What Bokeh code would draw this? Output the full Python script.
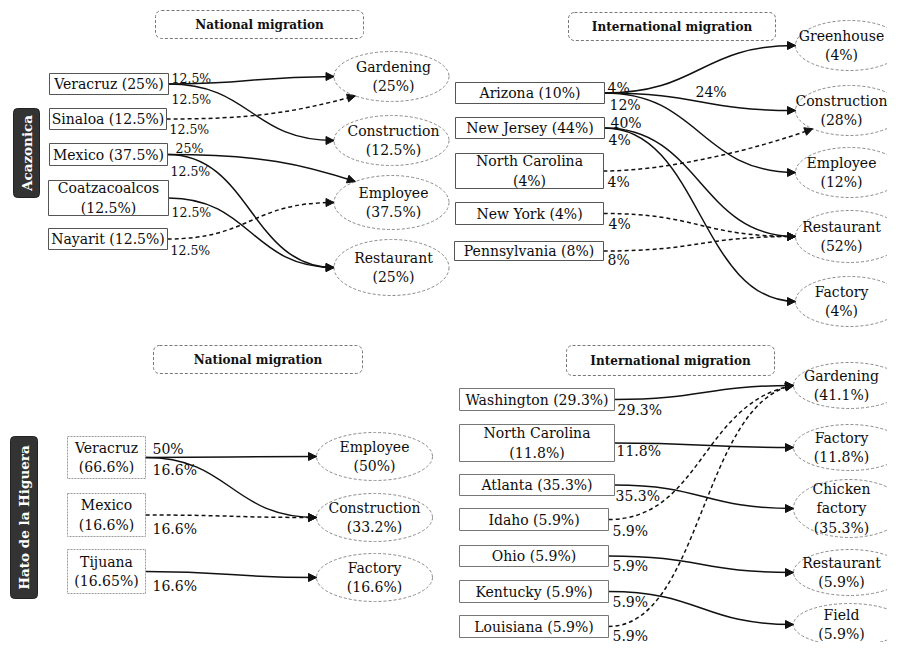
import math
from bokeh.plotting import figure
from bokeh.models import Range1d, ColumnDataSource, Arrow, NormalHead
from bokeh.core.properties import value
from bokeh.embed import file_html
from bokeh.resources import INLINE

# ---------------- data ----------------
communities = ["Acazonica", "Hato de la Higuera"]
panel_titles = ["National migration", "International migration",
                "National migration", "International migration"]

# Acazonica - national migration
aca_nat_origin = ["Veracruz", "Sinaloa", "Mexico", "Coatzacoalcos", "Nayarit"]
aca_nat_origin_pct = [25, 12.5, 37.5, 12.5, 12.5]
aca_nat_dest = ["Gardening", "Construction", "Employee", "Restaurant"]
aca_nat_dest_pct = [25, 12.5, 37.5, 25]
aca_nat_from = [0, 0, 1, 2, 2, 3, 4]
aca_nat_to = [0, 1, 0, 2, 3, 3, 2]
aca_nat_flow_pct = [12.5, 12.5, 12.5, 25, 12.5, 12.5, 12.5]
aca_nat_dashed = [False, False, True, False, False, False, True]

# Acazonica - international migration
aca_int_origin = ["Arizona", "New Jersey", "North Carolina", "New York", "Pennsylvania"]
aca_int_origin_pct = [10, 44, 4, 4, 8]
aca_int_dest = ["Greenhouse", "Construction", "Employee", "Restaurant", "Factory"]
aca_int_dest_pct = [4, 28, 12, 52, 4]
aca_int_from = [0, 0, 0, 1, 1, 2, 3, 4]
aca_int_to = [0, 1, 2, 3, 4, 1, 3, 3]
aca_int_flow_pct = [4, 24, 12, 40, 4, 4, 4, 8]
aca_int_dashed = [False, False, False, False, False, True, True, True]

# Hato de la Higuera - national migration
hato_nat_origin = ["Veracruz", "Mexico", "Tijuana"]
hato_nat_origin_pct = [66.6, 16.6, 16.65]
hato_nat_dest = ["Employee", "Construction", "Factory"]
hato_nat_dest_pct = [50, 33.2, 16.6]
hato_nat_from = [0, 0, 1, 2]
hato_nat_to = [0, 1, 1, 2]
hato_nat_flow_pct = [50, 16.6, 16.6, 16.6]
hato_nat_dashed = [False, False, True, False]

# Hato de la Higuera - international migration
hato_int_origin = ["Washington", "North Carolina", "Atlanta", "Idaho", "Ohio",
                   "Kentucky", "Louisiana"]
hato_int_origin_pct = [29.3, 11.8, 35.3, 5.9, 5.9, 5.9, 5.9]
hato_int_dest = ["Gardening", "Factory", "Chicken factory", "Restaurant", "Field"]
hato_int_dest_pct = [41.1, 11.8, 35.3, 5.9, 5.9]
hato_int_from = [0, 1, 2, 3, 4, 5, 6]
hato_int_to = [0, 1, 2, 0, 3, 4, 0]
hato_int_flow_pct = [29.3, 11.8, 35.3, 5.9, 5.9, 5.9, 5.9]
hato_int_dashed = [False, False, False, True, False, False, True]

# ---------------- layout (positions / styles) ----------------
layout = [
    dict(title_box=(155, 363, 10, 38), side=(13, 39, 108, 197),
         boxes=[(49, 168, 73, 94), (49, 166, 108, 129), (49, 167, 143, 165),
                (48, 168, 180, 215), (48, 167, 228, 249)],
         wrap=[False, False, False, True, False],
         box_color="#555555", box_dash="solid",
         ell_cx=391, ell_w=115, ell_tx=2, ell_cy=[76, 140, 202, 267], ell_h=[50, 50, 54, 56],
         lab=[(3, -6), (3, 15.5), (3, 10.5), (8, -6), (3, 17), (3, 14.5), (3, 11.5)],
         lab_size="12.5px",
         ends={2: (129, 15, 0.45, 0.35), 3: (231, -18, 0.5, 0.3)}),
    dict(title_box=(568, 775, 12, 40), side=None,
         boxes=[(455, 604, 82, 103), (455, 604, 117, 138), (455, 603, 153, 188),
                (455, 603, 202, 224), (454, 603, 241, 260)],
         wrap=[False, False, True, False, False],
         box_color="#555555", box_dash="solid",
         ell_cx=849, ell_w=108, ell_tx=-8, ell_cy=[45, 110, 172, 236, 301], ell_h=[50, 50, 50, 52, 50],
         lab=[(3, -5.5), (91, -1), (5, 11.5), (6, -5.5), (4, 11.5), (4, 10.5), (5, 10), (4, 8.5)],
         lab_size="14px",
         ends={5: (133, 20, 0.3, 0.3)}),
    dict(title_box=(153, 362, 345, 373), side=(10, 37, 436, 598),
         boxes=[(67, 145, 436, 478), (67, 145, 493, 536), (67, 145, 549, 593)],
         wrap=[True, True, True],
         box_color="#9a9a9a", box_dash="2 1",
         ell_cx=374, ell_w=116, ell_tx=0, ell_cy=[456, 517, 577], ell_h=[48, 48, 48],
         lab=[(7, -9), (7, 12), (7, 13.5), (7, 14)],
         lab_size="14px",
         ends={}),
    dict(title_box=(566, 774, 345, 375), side=None,
         boxes=[(459, 614, 388, 410), (459, 614, 424, 461), (459, 614, 474, 495),
                (459, 608, 508, 530), (459, 608, 545, 566), (459, 608, 580, 602),
                (459, 608, 615, 637)],
         wrap=[False, True, False, False, False, False, False],
         box_color="#777777", box_dash="solid",
         ell_cx=849, ell_w=112, ell_tx=-8, ell_cy=[385, 447, 508, 572, 624], ell_h=[46, 46, 58, 46, 42],
         lab=[(3, 10), (2, 8), (1, 10.5), (4, 11), (4, 9.5), (4, 10), (4, 9)],
         lab_size="14px",
         ends={3: (180, 10, 0.5, 0.5), 6: (180, 10, 0.5, 0.5)}),
]

panels = [
    dict(origin=aca_nat_origin, opct=aca_nat_origin_pct, dest=aca_nat_dest, dpct=aca_nat_dest_pct,
         src=aca_nat_from, dst=aca_nat_to, fpct=aca_nat_flow_pct, dashed=aca_nat_dashed),
    dict(origin=aca_int_origin, opct=aca_int_origin_pct, dest=aca_int_dest, dpct=aca_int_dest_pct,
         src=aca_int_from, dst=aca_int_to, fpct=aca_int_flow_pct, dashed=aca_int_dashed),
    dict(origin=hato_nat_origin, opct=hato_nat_origin_pct, dest=hato_nat_dest, dpct=hato_nat_dest_pct,
         src=hato_nat_from, dst=hato_nat_to, fpct=hato_nat_flow_pct, dashed=hato_nat_dashed),
    dict(origin=hato_int_origin, opct=hato_int_origin_pct, dest=hato_int_dest, dpct=hato_int_dest_pct,
         src=hato_int_from, dst=hato_int_to, fpct=hato_int_flow_pct, dashed=hato_int_dashed),
]


def fmt(v):
    return f"{v:g}%"


SERIF = value("DejaVu Serif")
INK = "#0d0d0d"

p = figure(width=887, height=642, x_range=Range1d(0, 887), y_range=Range1d(642, 0),
           output_backend="svg", toolbar_location=None, x_axis_type=None, y_axis_type=None,
           min_border=0, outline_line_color=None, background_fill_color="white")
p.grid.visible = False

box_txt = dict(x=[], y=[], text=[])
ells = dict(x=[], y=[], w=[], h=[])
ell_txt = dict(x=[], y=[], text=[])
curves = {True: dict(x0=[], y0=[], x1=[], y1=[], cx0=[], cy0=[], cx1=[], cy1=[]),
          False: dict(x0=[], y0=[], x1=[], y1=[], cx0=[], cy0=[], cx1=[], cy1=[])}
arrows = dict(xs=[], ys=[], xe=[], ye=[])
titles = dict(left=[], right=[], top=[], bottom=[], x=[], y=[], text=[])
sides = dict(left=[], right=[], top=[], bottom=[], x=[], y=[], text=[])
box_sets = []

for pi_, (P, L) in enumerate(zip(panels, layout)):
    l, r, t, b = L["title_box"]
    titles["left"].append(l); titles["right"].append(r)
    titles["top"].append(t); titles["bottom"].append(b)
    titles["x"].append((l + r) / 2); titles["y"].append((t + b) / 2)
    titles["text"].append(panel_titles[pi_])
    if L["side"]:
        l, r, t, b = L["side"]
        sides["left"].append(l); sides["right"].append(r)
        sides["top"].append(t); sides["bottom"].append(b)
        sides["x"].append((l + r) / 2); sides["y"].append((t + b) / 2)
        sides["text"].append(communities[pi_ // 2])

    boxes = dict(left=[], right=[], top=[], bottom=[])
    for i, name in enumerate(P["origin"]):
        l, r, t, b = L["boxes"][i]
        boxes["left"].append(l); boxes["right"].append(r)
        boxes["top"].append(t); boxes["bottom"].append(b)
        sep = "\n" if L["wrap"][i] else " "
        box_txt["x"].append((l + r) / 2); box_txt["y"].append((t + b) / 2)
        box_txt["text"].append(f"{name}{sep}({fmt(P['opct'][i])})")
    box_sets.append((boxes, L["box_color"], L["box_dash"]))

    for j, name in enumerate(P["dest"]):
        ells["x"].append(L["ell_cx"]); ells["y"].append(L["ell_cy"][j])
        ells["w"].append(L["ell_w"]); ells["h"].append(L["ell_h"][j])
        ell_txt["x"].append(L["ell_cx"] + L["ell_tx"]); ell_txt["y"].append(L["ell_cy"][j])
        ell_txt["text"].append(name.replace(" ", "\n") + "\n(" + fmt(P["dpct"][j]) + ")")

    lab = dict(x=[], y=[], text=[])
    for k in range(len(P["src"])):
        i, j = P["src"][k], P["dst"][k]
        l, r, t, b = L["boxes"][i]
        x0, y0 = r, (t + b) / 2
        th, a, k0, k1 = L["ends"].get(k, (180, 0, 0.5, 0.5))
        cx, cy = L["ell_cx"], L["ell_cy"][j]
        x1 = cx + L["ell_w"] / 2 * math.cos(math.radians(th))
        y1 = cy + L["ell_h"][j] / 2 * math.sin(math.radians(th))
        dx = x1 - x0
        ar = math.radians(a)
        c = curves[P["dashed"][k]]
        c["x0"].append(x0); c["y0"].append(y0); c["x1"].append(x1); c["y1"].append(y1)
        c["cx0"].append(x0 + k0 * dx); c["cy0"].append(y0)
        c["cx1"].append(x1 - k1 * dx * math.cos(ar)); c["cy1"].append(y1 + k1 * dx * math.sin(ar))
        arrows["xs"].append(x1 - 2 * math.cos(ar)); arrows["ys"].append(y1 + 2 * math.sin(ar))
        arrows["xe"].append(x1); arrows["ye"].append(y1)
        ox, oy = L["lab"][k]
        lab["x"].append(x0 + ox); lab["y"].append(y0 + oy); lab["text"].append(fmt(P["fpct"][k]))
    p.text(x="x", y="y", text="text", source=ColumnDataSource(lab), text_font=SERIF,
           text_font_size=L["lab_size"], text_align="left", text_baseline="middle",
           text_color=INK)

# title boxes
p.quad(left="left", right="right", top="top", bottom="bottom", source=ColumnDataSource(titles),
       fill_color="white", line_color="#777777", line_dash="3 2", line_width=1, border_radius=6)
p.text(x="x", y="y", text="text", source=ColumnDataSource(titles), text_font=SERIF,
       text_font_style="bold", text_font_size="12px", text_align="center",
       text_baseline="middle", text_color="#111111")

# community side labels
p.quad(left="left", right="right", top="top", bottom="bottom", source=ColumnDataSource(sides),
       fill_color="#333333", line_color="#222222", border_radius=4)
p.text(x="x", y="y", text="text", source=ColumnDataSource(sides), text_font=SERIF,
       text_font_style="bold", text_font_size="13.5px", text_align="center",
       text_baseline="middle", text_color="white", angle=math.pi / 2)

# flows
for dashed, c in curves.items():
    p.bezier(x0="x0", y0="y0", x1="x1", y1="y1", cx0="cx0", cy0="cy0", cx1="cx1", cy1="cy1",
             source=ColumnDataSource(c), line_color="#111111", line_width=1.5,
             line_dash="4 3" if dashed else "solid")
p.add_layout(Arrow(end=NormalHead(size=8, fill_color="#111111", line_color="#111111"),
                   x_start="xs", y_start="ys", x_end="xe", y_end="ye",
                   source=ColumnDataSource(arrows), line_alpha=0))

# origin boxes
for boxes, col, dash in box_sets:
    p.quad(left="left", right="right", top="top", bottom="bottom", source=ColumnDataSource(boxes),
           fill_alpha=0.0, line_color=col, line_width=1, line_dash=dash)
p.text(x="x", y="y", text="text", source=ColumnDataSource(box_txt), text_font=SERIF,
       text_font_size="14px", text_align="center", text_baseline="middle",
       text_color=INK, text_line_height=1.2)

# destination ellipses
p.ellipse(x="x", y="y", width="w", height="h", source=ColumnDataSource(ells),
          fill_color=None, line_color="#8a8a8a", line_dash="3 2", line_width=1)
p.text(x="x", y="y", text="text", source=ColumnDataSource(ell_txt), text_font=SERIF,
       text_font_size="14px", text_align="center", text_baseline="middle",
       text_color=INK, text_line_height=1.2)

open("out.html", "w").write(file_html(p, INLINE))
